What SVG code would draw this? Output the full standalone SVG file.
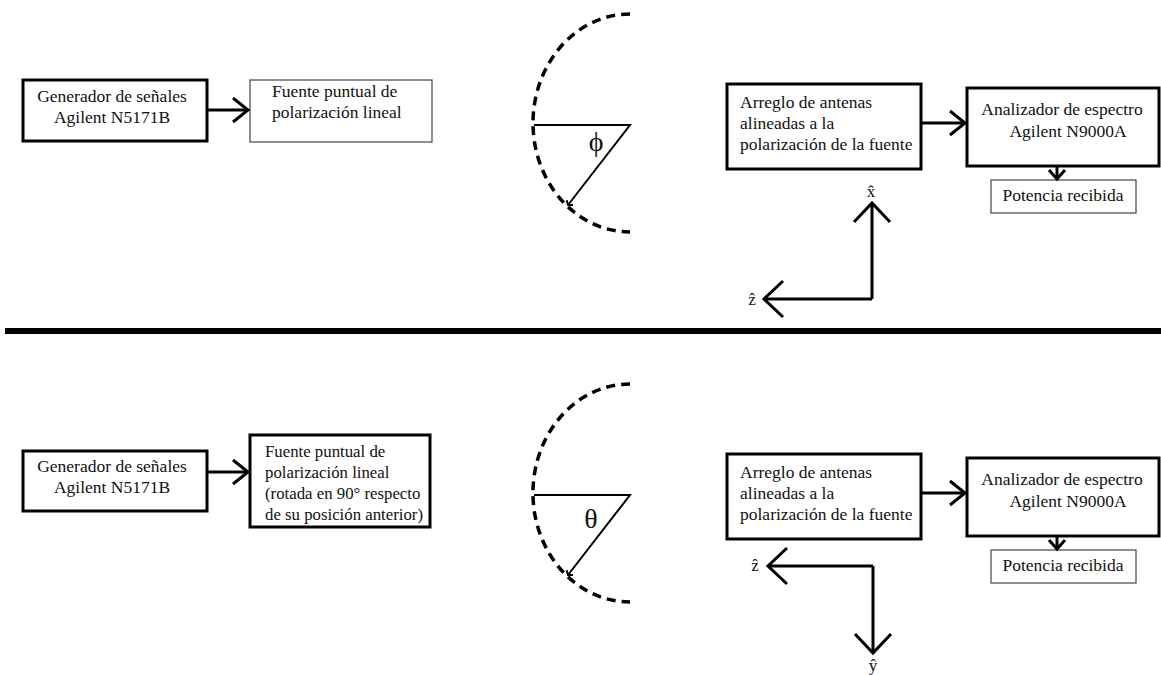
<svg xmlns="http://www.w3.org/2000/svg" width="1161" height="675" viewBox="0 0 1161 675">
<style>
text{font-family:"Liberation Serif","Times New Roman",serif;font-size:17.5px;fill:#111}
.f17{font-size:16.8px}
.thick{fill:#fff;stroke:#000;stroke-width:3}
.thin{fill:#fff;stroke:#444;stroke-width:1.2}
.conn{fill:none;stroke:#000;stroke-width:3}
.arc{fill:none;stroke:#000;stroke-width:3.5;stroke-dasharray:9,6}
.thinline{fill:none;stroke:#000;stroke-width:2}
.sym{font-size:28px}
.ax{font-size:17px}
</style>
<defs>
<marker id="chev" markerUnits="userSpaceOnUse" markerWidth="40" markerHeight="40" viewBox="-20 -20 40 40" refX="0" refY="0" orient="auto" overflow="visible">
<path d="M-15,-12 L0,0 L-15,12" fill="none" stroke="#000" stroke-width="3"/>
</marker>
<marker id="chevs" markerUnits="userSpaceOnUse" markerWidth="30" markerHeight="30" viewBox="-15 -15 30 30" refX="0" refY="0" orient="auto" overflow="visible">
<path d="M-9,-8 L0,0 L-9,8" fill="none" stroke="#000" stroke-width="3"/>
</marker>
<marker id="chevl" markerUnits="userSpaceOnUse" markerWidth="50" markerHeight="50" viewBox="-25 -25 50 50" refX="0" refY="0" orient="auto" overflow="visible">
<path d="M-19,-18 L0,0 L-19,18" fill="none" stroke="#000" stroke-width="3"/>
</marker>
<marker id="tick" markerUnits="userSpaceOnUse" markerWidth="20" markerHeight="20" viewBox="-10 -10 20 20" refX="0" refY="0" orient="auto" overflow="visible">
<path d="M-3,-4 L0,0 L-3,4" fill="none" stroke="#000" stroke-width="2"/>
</marker>
</defs>
<rect width="1161" height="675" fill="#fff"/>

<!-- TOP PANEL -->
<g id="gen1">
<rect class="thick" x="23" y="80" width="184" height="61"/>
<text x="112" y="102" text-anchor="middle">Generador de señales</text>
<text x="112" y="123" text-anchor="middle">Agilent N5171B</text>
</g>
<g id="fuente1">
<rect class="thin" x="250" y="80" width="182" height="62"/>
<text x="272" y="97">Fuente puntual de</text>
<text x="272" y="118">polarización lineal</text>
</g>
<g id="arc1">
<path class="arc" d="M630,14 A97,109 0 1 0 630,232"/>
<path class="thinline" d="M534,125 H630 L568,205" marker-end="url(#tick)"/>
<text class="sym" x="596" y="151" text-anchor="middle">ϕ</text>
</g>
<g id="arreglo1">
<rect class="thick" x="727" y="84" width="194" height="85"/>
<text x="740" y="108">Arreglo de antenas</text>
<text x="740" y="129">alineadas a la</text>
<text x="740" y="150">polarización de la fuente</text>
</g>
<g id="analizador1">
<rect class="thick" x="967" y="88" width="192" height="78"/>
<text x="1062" y="115" text-anchor="middle">Analizador de espectro</text>
<text x="1068" y="137" text-anchor="middle">Agilent N9000A</text>
</g>
<g id="potencia1">
<rect class="thin" x="991" y="180" width="145" height="33"/>
<text x="1063" y="201" text-anchor="middle">Potencia recibida</text>
</g>
<g id="axes1">
<path class="conn" d="M872,299 V203" marker-end="url(#chevl)"/>
<path class="conn" d="M872,299 H764" marker-end="url(#chevl)"/>
<text class="ax" x="871" y="197" text-anchor="middle">x̂</text>
<text class="ax" x="752" y="305" text-anchor="middle">ẑ</text>
</g>

<!-- DIVIDER -->
<line x1="5" y1="331" x2="1161" y2="331" stroke="#000" stroke-width="6"/>

<!-- BOTTOM PANEL -->
<g id="gen2">
<rect class="thick" x="23" y="451" width="184" height="60"/>
<text x="112" y="472" text-anchor="middle">Generador de señales</text>
<text x="112" y="493" text-anchor="middle">Agilent N5171B</text>
</g>
<g id="fuente2">
<rect class="thick" x="250" y="435" width="180" height="92"/>
<text class="f17" x="265" y="457">Fuente puntual de</text>
<text class="f17" x="265" y="478">polarización lineal</text>
<text class="f17" x="265" y="499">(rotada en 90° respecto</text>
<text class="f17" x="265" y="520">de su posición anterior)</text>
</g>
<g id="arc2">
<path class="arc" d="M630,384 A97,109 0 1 0 630,602"/>
<path class="thinline" d="M534,495 H630 L568,575" marker-end="url(#tick)"/>
<text class="sym" x="591" y="528" text-anchor="middle">θ</text>
</g>
<g id="arreglo2">
<rect class="thick" x="727" y="454" width="194" height="85"/>
<text x="740" y="478">Arreglo de antenas</text>
<text x="740" y="499">alineadas a la</text>
<text x="740" y="520">polarización de la fuente</text>
</g>
<g id="analizador2">
<rect class="thick" x="967" y="458" width="192" height="78"/>
<text x="1062" y="485" text-anchor="middle">Analizador de espectro</text>
<text x="1068" y="507" text-anchor="middle">Agilent N9000A</text>
</g>
<g id="potencia2">
<rect class="thin" x="991" y="550" width="145" height="33"/>
<text x="1063" y="571" text-anchor="middle">Potencia recibida</text>
</g>
<g id="axes2">
<path class="conn" d="M873,566 H768" marker-end="url(#chevl)"/>
<path class="conn" d="M873,566 V653" marker-end="url(#chevl)"/>
<text class="ax" x="755" y="571" text-anchor="middle">ẑ</text>
<text class="ax" x="873" y="671" text-anchor="middle">ŷ</text>
</g>

<!-- CONNECTORS -->
<g id="connectors">
<path class="conn" d="M207,110 H248" marker-end="url(#chev)"/>
<path class="conn" d="M921,123 H965" marker-end="url(#chev)"/>
<path class="conn" d="M1057,166 V179" marker-end="url(#chevs)"/>
<path class="conn" d="M207,472 H248" marker-end="url(#chev)"/>
<path class="conn" d="M921,493 H965" marker-end="url(#chev)"/>
<path class="conn" d="M1057,536 V549" marker-end="url(#chevs)"/>
</g>
</svg>
